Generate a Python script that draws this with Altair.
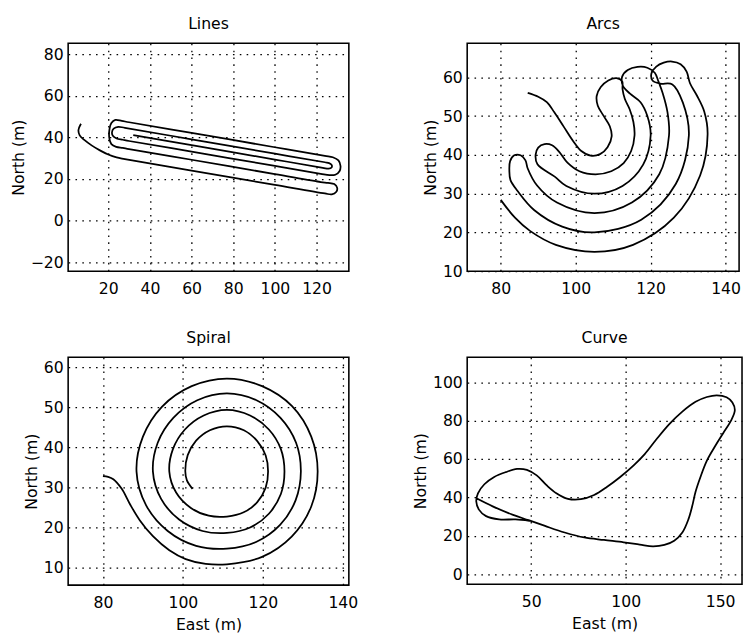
import altair as alt
import pandas as pd

FONT = "DejaVu Sans"

# ---------------- Lines ----------------
lines_x = [6.9, 5.7, 6.3, 8.5, 12.0, 16.0, 20.0, 24.0, 28.0,
           60.0, 100.0, 124.0,
           127.3, 129.4, 129.9, 128.5, 125.5,
           122.0, 100.0, 60.0, 30.0, 27.0,
           23.8, 21.5, 20.5, 20.6, 21.5, 23.4, 26.5,
           30.0, 60.0, 100.0, 124.0,
           127.8, 130.5, 131.5, 131.0, 129.0, 126.2,
           122.0, 100.0, 60.0, 30.0, 27.0,
           24.0, 22.2, 21.8, 22.6, 24.8,
           28.0, 60.0, 100.0, 124.0,
           126.0, 127.3, 127.2, 125.8, 123.0,
           100.0, 60.0, 32.0]
lines_y = [46.6, 43.6, 41.0, 38.8, 36.2, 33.8, 31.8, 30.4, 29.6,
           24.1, 17.2, 13.1,
           12.7, 13.8, 15.8, 17.6, 18.2,
           18.6, 22.4, 29.3, 34.4, 35.0,
           35.5, 36.8, 39.8, 44.0, 46.9, 48.4, 47.95,
           47.3, 42.2, 35.3, 31.2,
           30.5, 29.0, 26.3, 23.8, 22.1, 21.9,
           22.5, 26.3, 33.2, 38.3, 38.9,
           39.5, 40.8, 42.5, 44.2, 45.1,
           44.6, 39.1, 32.2, 28.1,
           27.7, 26.7, 25.6, 25.0, 25.4,
           29.4, 36.3, 41.1]

# ---------------- Arcs ----------------
arcs_x = [87.2, 90.0, 92.3, 94.3, 96.8, 99.3, 101.5, 104.0, 106.5, 108.5, 109.6, 109.1,
          107.5, 105.9, 105.6, 106.7, 108.7, 110.9, 112.4, 112.5, 113.1, 114.4, 115.4, 115.7,
          114.8, 112.8, 109.5, 105.3, 101.0, 97.8, 95.6,
          93.7, 91.7, 90.0, 89.3, 89.8,
          94.4, 97.5, 105.0, 112.5, 118.0, 120.0, 119.1, 117.3,
          114.5, 112.6, 112.4, 113.9, 116.5, 119.1, 121.1, 122.1,
          123.2, 124.5, 124.9, 122.3, 115.0, 105.0, 95.0, 89.7, 87.2,
          86.6, 85.3, 83.6, 82.5, 82.3,
          82.6, 84.5, 88.9, 96.4, 105.0, 117.5, 126.7, 130.2, 128.6, 125.8,
          122.5, 120.5, 120.2, 121.5, 123.5, 125.7, 128.0, 129.6, 130.5,
          132.3, 134.3, 135.2, 133.2, 126.2, 115.3, 105.0, 94.7, 87.8, 83.8, 80.0]
arcs_y = [56.0, 55.0, 53.6, 51.0, 47.3, 43.6, 41.0, 39.8, 40.2, 42.0, 44.8, 47.4,
          50.0, 52.7, 55.2, 57.5, 59.2, 59.8, 59.0, 57.0, 54.5, 51.8, 48.5, 45.0,
          41.0, 37.9, 35.8, 35.0, 35.8, 38.0, 40.8,
          42.5, 42.8, 41.9, 40.0, 37.6,
          34.4, 32.0, 30.0, 32.0, 37.5, 45.0, 50.1, 53.6,
          55.8, 57.8, 60.2, 61.9, 62.7, 62.5, 61.2, 58.9,
          56.0, 51.0, 45.0, 35.0, 27.7, 25.0, 27.7, 32.1, 36.5,
          38.6, 39.9, 39.9, 38.4, 36.0,
          33.5, 30.7, 25.8, 21.5, 20.0, 23.3, 32.5, 45.0, 53.5, 58.2,
          58.4, 59.2, 61.0, 62.8, 63.8, 64.1, 63.4, 61.5, 58.5,
          55.4, 51.2, 45.3, 34.7, 23.8, 16.8, 15.0, 16.8, 20.4, 23.8, 28.4]

# ---------------- Spiral ----------------
spiral_x = [80.0, 81.3, 82.6, 84.7, 86.7, 89.2, 92.5, 96.6, 100.7, 105.7,
            111.0, 119.8, 127.2, 132.1, 133.7, 132.1, 127.3, 119.8,
            111.0, 102.2, 94.8, 90.0, 88.4, 90.8, 96.2, 103.3,
            111.0, 118.3, 124.3, 128.2, 129.5, 128.3, 124.4, 118.4,
            111.0, 103.6, 97.6, 93.7, 92.5, 94.55, 99.05, 104.9,
            111.0, 116.8, 121.5, 124.5, 125.4, 124.5, 121.5, 116.8,
            111.0, 105.2, 100.5, 97.5, 96.6, 98.3, 102.0, 106.45,
            111.0, 115.2, 118.6, 120.7, 121.3, 120.7, 118.6, 115.25,
            111.0, 106.75, 103.3, 101.2, 100.6, 101.0, 102.4]
spiral_y = [32.9, 32.7, 32.1, 29.7, 26.0, 21.9, 17.9, 14.4, 12.2, 11.0,
            10.9, 12.75, 17.8, 25.3, 34.0, 42.7, 50.3, 55.3,
            57.2, 55.3, 50.2, 42.7, 34.0, 25.6, 19.2, 15.5,
            14.8, 16.45, 20.7, 26.9, 34.0, 41.2, 47.4, 51.8,
            53.5, 51.8, 47.4, 41.2, 34.0, 27.2, 22.05, 19.2,
            18.7, 20.05, 23.5, 28.4, 34.0, 39.6, 44.5, 48.0,
            49.4, 48.0, 44.5, 39.6, 34.0, 28.8, 24.95, 23.0,
            22.8, 23.85, 26.4, 30.0, 34.0, 38.0, 41.6, 44.3,
            45.3, 44.3, 41.7, 38.1, 34.0, 31.8, 29.7]

# ---------------- Curve ----------------
curve_x = [21.0, 29.6, 40.0, 48.6, 57.3, 67.7, 78.1, 88.5, 98.9, 107.5, 114.4, 120.5,
           125.7, 130.0, 133.2, 135.2, 137.0, 139.6, 143.0, 147.4, 151.7, 156.0, 157.8,
           156.5, 153.4, 148.2, 143.0, 137.0, 130.0, 123.1, 116.2, 110.1, 104.1, 97.1,
           90.2, 83.3, 76.3, 69.4, 63.3, 58.1, 52.9, 47.7, 42.5, 36.5, 30.4, 25.2,
           21.8, 20.9, 22.3, 26.1, 33.0, 41.7, 49.0]
curve_y = [39.6, 35.4, 31.1, 28.2, 25.2, 21.8, 19.2, 17.9, 16.7, 15.5, 14.6, 15.3,
           17.5, 21.8, 28.6, 35.4, 43.0, 50.7, 59.2, 66.8, 73.6, 80.4, 85.5,
           89.5, 92.2, 93.2, 92.3, 89.8, 84.7, 78.2, 70.2, 62.6, 56.6, 50.7,
           45.6, 41.3, 39.1, 39.3, 42.2, 46.4, 51.5, 54.4, 54.9, 53.2, 50.7, 46.9,
           42.2, 37.9, 33.7, 30.3, 28.6, 28.6, 27.9]

titles = ["Lines", "Arcs", "Spiral", "Curve"]
x_ticks = [[20, 40, 60, 80, 100, 120], [80, 100, 120, 140], [80, 100, 120, 140], [50, 100, 150]]
y_ticks = [[-20, 0, 20, 40, 60, 80], [10, 20, 30, 40, 50, 60], [10, 20, 30, 40, 50, 60], [0, 20, 40, 60, 80, 100]]
x_domains = [[0.75, 135.5], [71.05, 143.6], [71.3, 141.5], [16.1, 161.6]]
y_domains = [[-24.2, 85.2], [10.0, 68.8], [5.7, 62.5], [-5.1, 113.0]]
x_title = "East (m)"
y_title = "North (m)"


def panel(xs, ys, k, w, h, with_xtitle):
    df = pd.DataFrame({"x": xs, "y": ys, "i": list(range(len(xs)))})
    xaxis = alt.Axis(values=x_ticks[k], title=(x_title if with_xtitle else None),
                     labelPadding=10, titlePadding=6)
    yaxis = alt.Axis(values=y_ticks[k], title=y_title, labelPadding=5, titlePadding=4)
    return (
        alt.Chart(df)
        .mark_line(color="black", strokeWidth=1.8, interpolate="catmull-rom", clip=True)
        .encode(
            x=alt.X("x:Q", scale=alt.Scale(domain=x_domains[k], nice=False, zero=False), axis=xaxis),
            y=alt.Y("y:Q", scale=alt.Scale(domain=y_domains[k], nice=False, zero=False), axis=yaxis),
            order=alt.Order("i:Q"),
        )
        .properties(
            width=w,
            height=h,
            title=alt.TitleParams(titles[k], font=FONT, fontSize=16, fontWeight="normal",
                                  color="black", offset=-1, frame="group", anchor="middle",
                                  baseline="alphabetic"),
        )
    )


p1 = panel(lines_x, lines_y, 0, 287, 233, False)
p2 = panel(arcs_x, arcs_y, 1, 278, 233, False)
p3 = panel(spiral_x, spiral_y, 2, 287, 233, True)
p4 = panel(curve_x, curve_y, 3, 281, 232, True)

chart = (
    alt.concat(p1, p2, p3, p4, columns=2, spacing={"row": 88, "column": 121},
               bounds="flush", align="none")
    .properties(padding={"left": 1.5, "top": 0, "right": 0, "bottom": 0}, background="white")
    .configure_view(stroke="black", strokeWidth=1.6)
    .configure_axis(
        labelFont=FONT, labelFontSize=16, labelColor="black",
        titleFont=FONT, titleFontSize=16, titleFontWeight="normal", titleColor="black",
        grid=True, gridColor="black", gridDash=[1.6, 5.4], gridWidth=1.3, gridOpacity=1,
        domain=False, ticks=False, tickSize=0, labelFlush=False, labelOverlap=False,
        labelBound=False,
    )
)

chart.save("out.html", embed_options={"renderer": "svg", "actions": False})
